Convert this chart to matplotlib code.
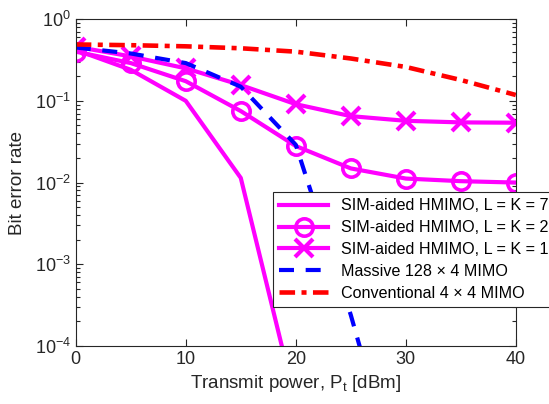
import math
import matplotlib
matplotlib.use("Agg")
import matplotlib.pyplot as plt
from matplotlib.ticker import FixedLocator, LogLocator, FuncFormatter, NullFormatter

plt.rcParams['font.family'] = ['Liberation Sans', 'DejaVu Sans']
plt.rcParams['mathtext.fontset'] = 'custom'
plt.rcParams['mathtext.rm'] = 'Liberation Sans'
plt.rcParams['mathtext.it'] = 'Liberation Sans'

# transmit power [dBm]
power = [0, 5, 10, 15, 20, 25, 30, 35, 40]

# bit error rate
ber_lk7 = [0.42, 0.24, 0.10, 0.0114, 2.0e-5]
ber_lk2 = [0.40, 0.29, 0.174, 0.075, 0.028, 0.0149, 0.0112, 0.0104, 0.0100]
ber_lk1 = [0.46, 0.35, 0.25, 0.156, 0.091, 0.065, 0.057, 0.0545, 0.054]
ber_massive = [0.45, 0.38, 0.29, 0.149, 0.029, 2.4e-4, 1.0e-6]
ber_conv = [0.49, 0.48, 0.465, 0.44, 0.40, 0.33, 0.26, 0.18, 0.118]

labels = ['SIM-aided HMIMO, L = K = 7',
          'SIM-aided HMIMO, L = K = 2',
          'SIM-aided HMIMO, L = K = 1',
          'Massive 128 \u00d7 4 MIMO',
          'Conventional 4 \u00d7 4 MIMO']

ink = (0.15, 0.15, 0.15)
fig = plt.figure(figsize=(5.49, 4.04), dpi=100)
ax = fig.add_axes([0.138, 0.1436, 0.8015, 0.809])

lw = 3
ax.plot(power[:len(ber_lk7)], ber_lk7, color='magenta', lw=lw, label=labels[0])
ax.plot(power, ber_lk2, color='magenta', lw=lw, marker='o', ms=12.5,
        mew=2.6, mfc='none', label=labels[1])
ax.plot(power, ber_lk1, color='magenta', lw=lw, marker='x', ms=12.5,
        mew=3, label=labels[2])
ax.plot(power[:len(ber_massive)], ber_massive, color='blue', lw=lw,
        dashes=(3.6, 2.8), label=labels[3])
ax.plot(power, ber_conv, color='red', lw=lw + 0.3,
        dashes=(3.4, 1.4, 1.1, 1.4), label=labels[4])

ax.set_yscale('log')
ax.set_xlim(0, 40)
ax.set_ylim(1e-4, 1)
ax.xaxis.set_major_locator(FixedLocator([0, 10, 20, 30, 40]))
ax.yaxis.set_major_locator(LogLocator(base=10, numticks=10))
ax.yaxis.set_minor_locator(LogLocator(base=10, subs=range(2, 10), numticks=20))
ax.yaxis.set_minor_formatter(NullFormatter())
ax.yaxis.set_major_formatter(FuncFormatter(
    lambda v, p: '$\\mathregular{10^{%d}}$' % round(math.log10(v))))

ax.tick_params(which='both', direction='in', top=True, right=True,
               colors=ink, labelsize=13, width=0.8)
ax.tick_params(which='major', length=5)
ax.tick_params(which='minor', length=3)
for s in ax.spines.values():
    s.set_color(ink)
    s.set_linewidth(0.8)

ax.set_xlabel('Transmit power, $\\mathregular{P_t}$ [dBm]', fontsize=13.5, color=ink, labelpad=4)
ax.set_ylabel('Bit error rate', fontsize=13.5, color=ink, labelpad=6)

leg = ax.legend(loc='upper left', bbox_to_anchor=(0.448, 0.471), borderaxespad=0,
                fontsize=11.6, fancybox=False, edgecolor=ink, framealpha=1,
                handlelength=3.0, handletextpad=0.8, labelspacing=0.42,
                borderpad=0.4)
leg.get_frame().set_linewidth(0.8)
leg.set_clip_on(False)

fig.savefig('out.png', dpi=100)
